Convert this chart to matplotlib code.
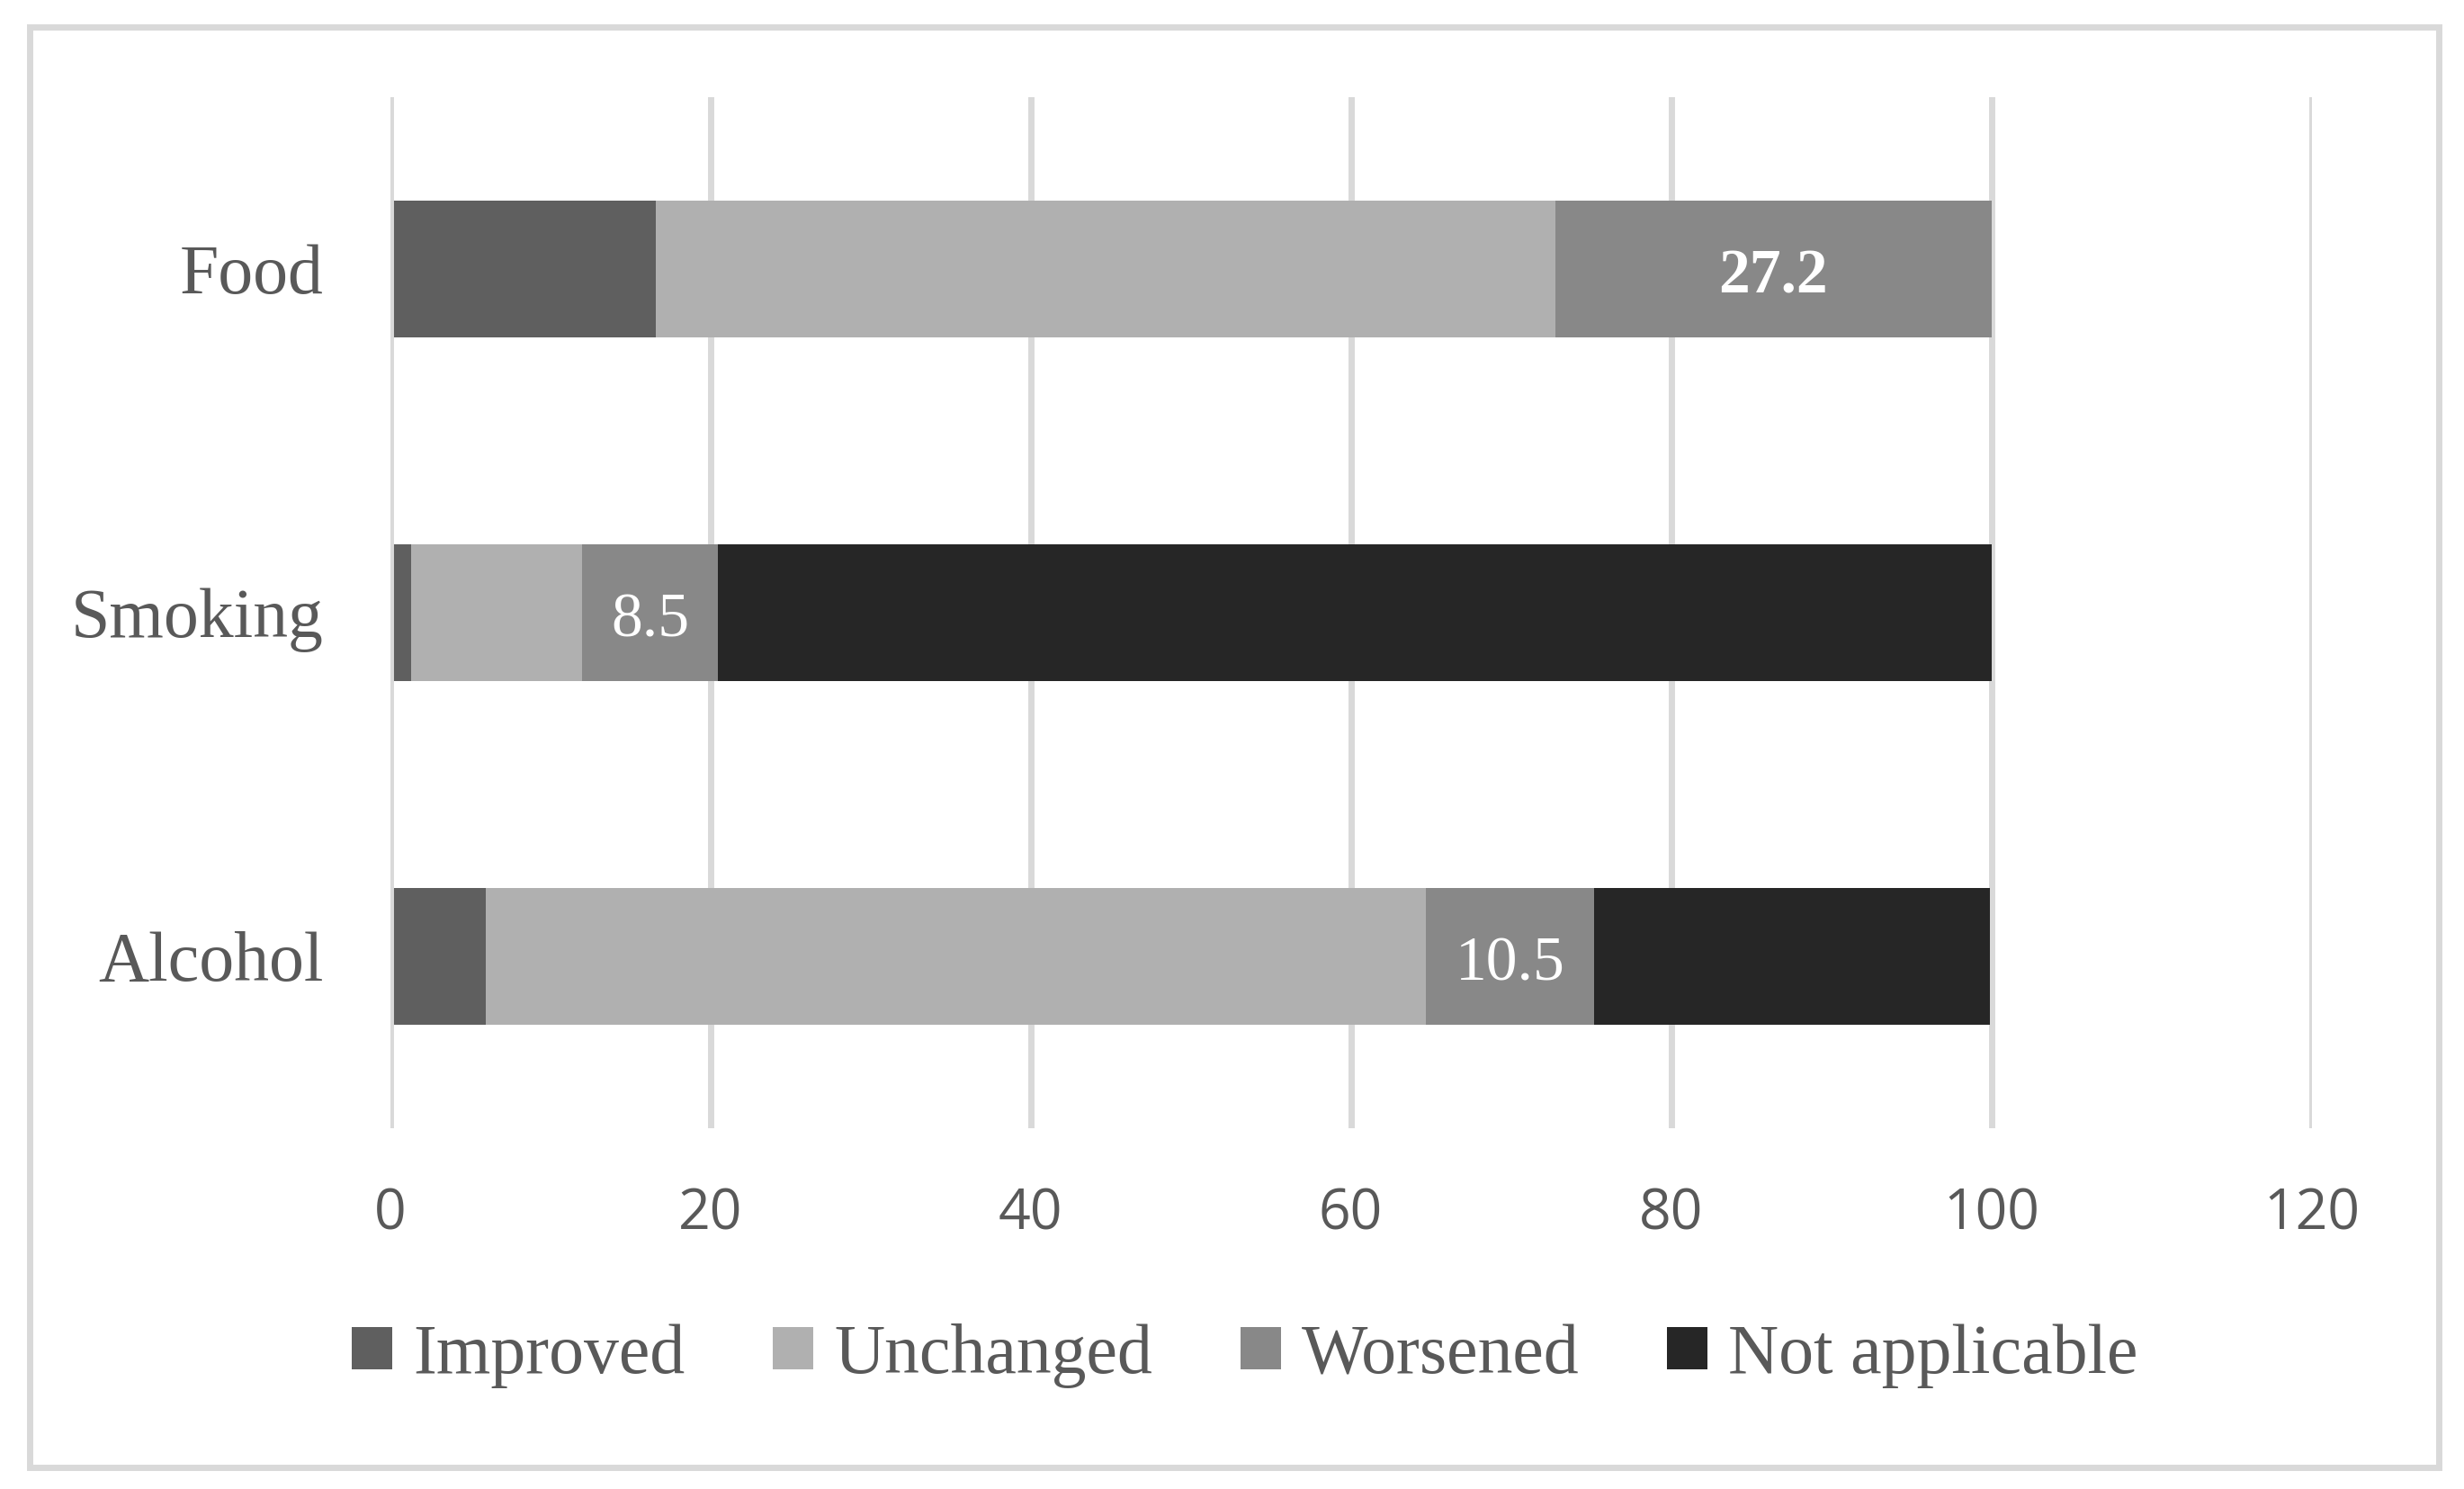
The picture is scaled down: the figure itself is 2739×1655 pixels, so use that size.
import matplotlib
matplotlib.use('Agg')
import matplotlib.pyplot as plt
from matplotlib.patches import Rectangle

# --- dados ---
categorias = ['Food', 'Smoking', 'Alcohol']
improved = [16.6, 1.3, 6.0]
unchanged = [56.2, 10.7, 58.7]
worsened = [27.2, 8.5, 10.5]
not_applicable = [0.0, 79.5, 24.7]
series_nomes = ['Improved', 'Unchanged', 'Worsened', 'Not applicable']
cores = ['#5f5f5f', '#b0b0b0', '#888888', '#262626']
x_ticks = [0, 20, 40, 60, 80, 100, 120]

W, H = 2739, 1655
fig = plt.figure(figsize=(W / 100, H / 100), dpi=100)
ax = fig.add_axes([433.5 / W, 1 - 1254 / H, 2136 / W, 1146 / H])

texto_cor = '#595959'
serif = ['Liberation Serif', 'DejaVu Serif']

# barras empilhadas
pos = list(range(len(categorias)))
esquerda = [0.0] * len(categorias)
for nome, valores, cor in zip(series_nomes, [improved, unchanged, worsened, not_applicable], cores):
    ax.barh(pos, valores, left=esquerda, height=0.4, color=cor, label=nome, zorder=2)
    esquerda = [e + v for e, v in zip(esquerda, valores)]

# rótulos da série Worsened
inicio_w = [i + u for i, u in zip(improved, unchanged)]
for i, (ini, v) in enumerate(zip(inicio_w, worsened)):
    peso = 'bold' if i == 0 else 'normal'
    ax.text(ini + v / 2, i + 0.07, f'{v}', ha='center', va='baseline', color='white',
            fontsize=50, family=serif, fontweight=peso, zorder=3)

ax.set_xlim(0, 120)
ax.set_ylim(2.5, -0.5)
ax.set_xticks(x_ticks)
ax.set_xticklabels([str(t) for t in x_ticks], fontsize=45, color=texto_cor,
                   family=['Open Sans', 'DejaVu Sans'])
ax.set_yticks(pos)
ax.set_yticklabels(categorias, fontsize=56, color=texto_cor, family=serif)
ax.tick_params(axis='both', length=0)
ax.tick_params(axis='x', pad=47)
ax.tick_params(axis='y', pad=53)
for s in ax.spines.values():
    s.set_visible(False)

# grade vertical
for t in x_ticks:
    ax.axvline(t, color='#d9d9d9', linewidth=5, zorder=3 if t == 0 else 1)

# legenda
leg = fig.legend(loc='center', bbox_to_anchor=(1384 / W, 1 - 1507 / H), ncol=4,
                 frameon=False, prop={'family': serif, 'size': 56},
                 handlelength=0.58, handleheight=0.57, handletextpad=0.3,
                 columnspacing=1.25, labelcolor=texto_cor)

# moldura externa
fig.patches.append(Rectangle((32.5 / W, 24.5 / H), (2711 - 32.5) / W, (1625 - 24.5) / H,
                             transform=fig.transFigure, fill=False,
                             edgecolor='#d9d9d9', linewidth=5))

fig.savefig('out.png', dpi=100)
